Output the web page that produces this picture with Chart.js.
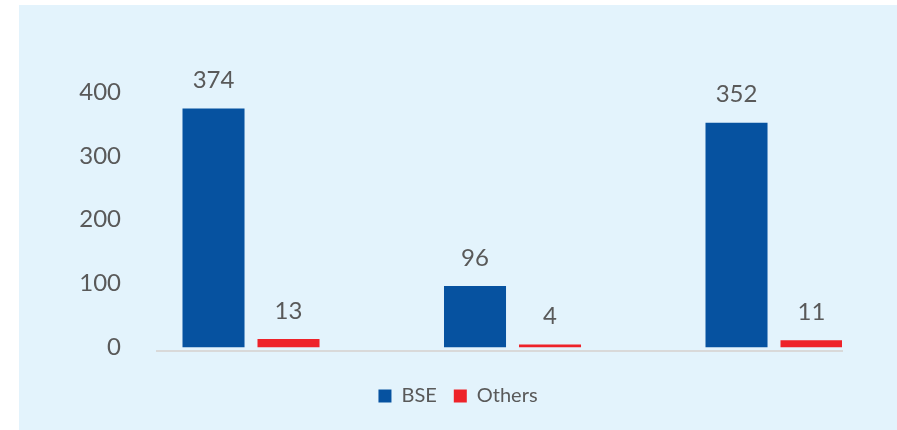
<!DOCTYPE html>
<html>
<head>
<meta charset="utf-8">
<script src="https://cdn.jsdelivr.net/npm/chart.js@4/dist/chart.umd.min.js"></script>
<style>
  html, body { margin: 0; padding: 0; background: #ffffff; }
  #wrap { position: absolute; left: 19px; top: 5px; width: 878px; height: 425px; background: #E3F3FC; }
  canvas { display: block; }
</style>
</head>
<body>
<div id="wrap"><canvas id="c" width="878" height="425"></canvas></div>
<script>
const categories = ['', '', ''];
const bseValues = [374, 96, 352];
const othersValues = [13, 4, 11];
const yTicks = [0, 100, 200, 300, 400];
const seriesNames = ['BSE', 'Others'];

const TEXT = '#595959';
const FONT = 'Lato';

const valueLabels = {
  id: 'valueLabels',
  afterDatasetsDraw(chart) {
    const ctx = chart.ctx;
    ctx.save();
    ctx.font = '24px ' + FONT;
    ctx.fillStyle = TEXT;
    ctx.textAlign = 'center';
    ctx.textBaseline = 'middle';
    chart.data.datasets.forEach((ds, di) => {
      const meta = chart.getDatasetMeta(di);
      meta.data.forEach((el, i) => {
        ctx.fillText(String(ds.data[i].y), el.x, el.y - 28);
      });
    });
    ctx.restore();
  }
};

new Chart(document.getElementById('c'), {
  type: 'bar',
  data: {
    datasets: [
      {
        label: seriesNames[0],
        data: bseValues.map((v, i) => ({ x: i + 1, y: v })),
        backgroundColor: '#0652A0',
        borderWidth: 0
      },
      {
        label: seriesNames[1],
        data: othersValues.map((v, i) => ({ x: i + 1, y: v })),
        backgroundColor: '#EE2229',
        borderWidth: 0
      }
    ]
  },
  options: {
    responsive: false,
    animation: false,
    categoryPercentage: 0.5736,
    barPercentage: 0.827,
    layout: { padding: { top: 36, right: 55, left: 55, bottom: 14 } },
    plugins: {
      legend: {
        position: 'bottom',
        labels: {
          color: TEXT,
          font: { family: FONT, size: 20 },
          boxWidth: 13,
          boxHeight: 13,
          padding: 17
        }
      },
      tooltip: { enabled: false }
    },
    scales: {
      x: {
        type: 'linear',
        offset: false,
        min: 0.6405,
        max: 3.26,
        grid: { display: false, drawTicks: false },
        ticks: { display: false },
        border: { display: true, color: '#D9D9D9', width: 2 },
        afterBuildTicks(scale) { scale.ticks = categories.map((c, i) => ({ value: i + 1, label: c })); },
        afterFit(scale) { scale.height = 18; }
      },
      y: {
        min: -6,
        max: 480,
        grid: { display: false, drawTicks: false },
        border: { display: false },
        afterBuildTicks(scale) { scale.ticks = yTicks.map(v => ({ value: v })); },
        ticks: {
          color: TEXT,
          font: { family: FONT, size: 24 },
          padding: 36
        },
        afterFit(scale) {
          scale.width = 83;
          scale.paddingTop = 0;
          scale.paddingBottom = 0;
        }
      }
    }
  },
  plugins: [valueLabels]
});
</script>
</body>
</html>
